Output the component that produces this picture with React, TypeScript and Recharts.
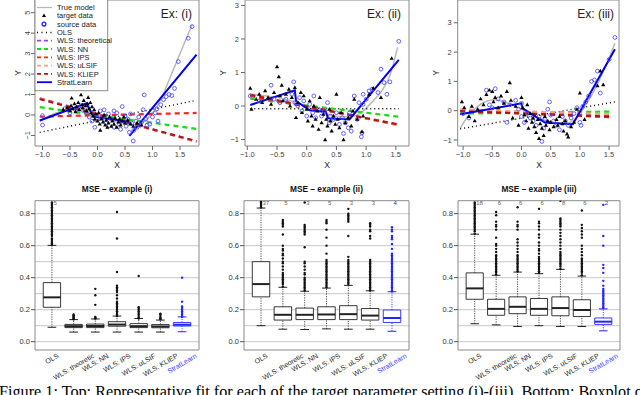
import React from 'react'
import {
  CartesianGrid,
  ComposedChart,
  Line,
  ReferenceArea,
  ReferenceLine,
  Scatter,
  XAxis,
  YAxis,
} from 'recharts'

const FONT = '"Liberation Sans", Arial, Helvetica, sans-serif'
const BLUE = '#2424ff'

type Pt = [number, number | null]

// ---------- top row: representative fits ----------
const xTicks = [-1, -0.5, 0, 0.5, 1, 1.5]
const yTicks1 = [-1, 0, 1, 2, 3, 4, 5]
const yTicks23 = [-1, 0, 1, 2, 3]

const target1: Pt[] = [
  [-0.62, 0.25], [-0.55, 0.35], [-0.5, 0.2], [-0.48, 0.45], [-0.47, 0.82], [-0.45, 0.3], [-0.42, 0.55],
  [-0.4, 0.15], [-0.38, 0.4], [-0.35, 0.6], [-0.33, 0.25], [-0.3, 0.98], [-0.28, 0.5], [-0.27, 0.35],
  [-0.25, 0.7], [-0.22, 0.45], [-0.2, 0.2], [-0.18, 0.55], [-0.17, 0.85], [-0.15, 0.3], [-0.13, 0.6],
  [-0.12, 0.1], [-0.1, 0.4], [-0.08, -0.05], [-0.06, 0.25], [-0.05, -0.2], [-0.03, 0.05], [0.0, -0.3],
  [0.02, 0.1], [0.04, -0.45], [0.05, -0.75], [0.07, -0.2], [0.1, -0.35], [0.12, 0.0], [0.14, -0.5],
  [0.16, -0.25], [0.18, -0.6], [0.2, -0.4], [0.22, -0.1], [0.25, -0.55], [0.27, -0.3], [0.3, -0.45],
  [0.32, -0.15], [0.35, -0.6], [0.38, -0.35], [0.4, -0.2], [0.42, -0.5], [0.45, -0.3], [0.48, -0.1],
  [0.5, -0.4], [0.55, -0.25], [0.6, -0.45], [0.65, -0.55], [0.72, -0.4], [0.8, -0.5],
]
const source1: Pt[] = [
  [-1.0, -0.03], [-1.0, -0.49], [-0.6, 0.3], [-0.5, 0.1], [-0.4, 0.25], [-0.3, 0.45], [-0.25, 0.2],
  [-0.2, 0.1], [-0.15, -0.1], [-0.1, -0.3], [-0.05, -0.6], [0.0, -0.15], [0.05, 0.2], [0.1, -0.1],
  [0.12, 0.25], [0.15, -0.4], [0.2, 0.05], [0.25, -0.2], [0.3, -0.6], [0.3, 0.2], [0.35, 0.1],
  [0.4, -0.45], [0.42, -0.7], [0.45, 0.41], [0.48, -0.3], [0.5, -0.05], [0.52, -0.55], [0.55, -0.2],
  [0.58, -0.85], [0.6, 0.05], [0.62, -0.4], [0.65, -1.27], [0.66, -0.75], [0.7, -0.3], [0.72, -0.6],
  [0.75, -0.1], [0.78, -0.5], [0.8, -0.35], [0.83, 0.26], [0.85, 0.98], [0.88, -0.2], [0.9, -0.5],
  [0.95, -0.45], [1.0, -0.1], [1.05, 0.1], [1.08, 0.3], [1.1, -0.3], [1.15, 0.5], [1.2, 0.75],
  [1.25, 0.9], [1.3, 1.0], [1.35, 0.95], [1.4, 1.3], [1.47, 2.61], [1.65, 3.75], [1.72, 4.32],
]
const truth1: Pt[] = [
  [-1.05, -0.3], [-0.8, 0.05], [-0.6, 0.25], [-0.4, 0.35], [-0.2, 0.3], [0.0, 0.05], [0.2, -0.2],
  [0.4, -0.38], [0.6, -0.48], [0.75, -0.45], [0.9, -0.2], [1.0, 0.1], [1.1, 0.5], [1.2, 1.05],
  [1.3, 1.7], [1.4, 2.35], [1.5, 3.0], [1.6, 3.65], [1.72, 4.4],
]
const ols1: Pt[] = [[-1.05, -0.85], [1.8, 0.72]]
const theo1: Pt[] = [[-1.05, 0.82], [1.8, -1.3]]
const nn1: Pt[] = [[-1.05, 0.38], [1.8, -0.68]]
const ips1: Pt[] = [[-1.05, -0.08], [1.8, 0.1]]
const ulsif1: Pt[] = [[-1.05, 0.8], [1.8, -1.32]]
const kliep1: Pt[] = [[-1.05, 0.78], [1.8, -1.28]]
const strat1: Pt[] = [[-1.05, -0.27], [-0.2, 0.57], [-0.08, -0.08], [0.58, -0.33], [0.58, null], [0.58, -1.02], [1.8, 2.95]]

const target2: Pt[] = [
  [-0.95, 0.53], [-0.93, -0.1], [-0.85, 0.2], [-0.8, 0.35], [-0.75, 0.1], [-0.7, 0.45], [-0.65, 0.25],
  [-0.6, 0.05], [-0.55, 0.4], [-0.5, 1.17], [-0.47, 0.87], [-0.45, 0.3], [-0.42, 0.62], [-0.4, 0.15],
  [-0.35, 0.35], [-0.3, 0.5], [-0.28, 0.0], [-0.25, 0.25], [-0.2, 0.55], [-0.18, -0.35], [-0.15, 0.1],
  [-0.1, 0.4], [-0.08, -0.2], [-0.05, 0.3], [0.0, -0.1], [0.02, -0.45], [0.05, 0.15], [0.08, -0.3],
  [0.1, -0.6], [0.12, 0.0], [0.15, -0.4], [0.18, -0.15], [0.2, -0.7], [0.22, 0.25], [0.25, -0.5],
  [0.28, -0.25], [0.31, -1.01], [0.33, -0.4], [0.35, -0.6], [0.38, -0.1], [0.4, -0.45], [0.42, -0.75],
  [0.45, -0.3], [0.48, -0.55], [0.5, 0.35], [0.52, -0.4], [0.55, -0.65], [0.58, -0.2], [0.62, -1.01],
  [0.65, -0.5], [0.7, -0.35], [0.75, -0.6], [0.78, -0.15], [0.8, 0.2], [0.85, -0.4], [0.93, -0.77],
  [0.95, -0.3], [1.05, 0.35], [1.12, 0.53], [1.25, 0.25], [1.43, 1.42],
]
const source2: Pt[] = [
  [-0.95, 0.3], [-0.8, 0.15], [-0.6, 0.62], [-0.55, 0.2], [-0.45, 0.1], [-0.35, 0.2], [-0.25, 0.35],
  [-0.22, 0.72], [-0.2, 0.1], [-0.15, 0.0], [-0.12, 0.25], [-0.08, -0.15], [-0.05, 0.15], [0.0, -0.3],
  [0.05, 0.05], [0.1, -0.2], [0.12, 0.3], [0.15, -0.35], [0.2, -0.1], [0.25, -0.3], [0.3, -0.15],
  [0.35, 0.1], [0.38, -0.5], [0.4, -0.3], [0.45, -0.4], [0.5, -0.2], [0.55, -0.55], [0.6, -0.35],
  [0.62, -0.82], [0.65, -0.5], [0.7, -0.65], [0.72, -0.2], [0.75, -0.75], [0.8, 0.3], [0.85, -0.4],
  [0.88, 0.1], [0.92, -0.92], [0.93, -0.8], [0.95, 0.05], [0.95, 0.35], [1.0, 0.2], [1.05, 0.45],
  [1.1, 0.5], [1.2, 0.4], [1.25, 1.1], [1.3, 0.7], [1.35, 0.35], [1.4, 0.72], [1.55, 1.93],
]
const truth2: Pt[] = [
  [-0.95, 0.35], [-0.8, 0.33], [-0.6, 0.28], [-0.4, 0.22], [-0.2, 0.12], [0.0, -0.02], [0.2, -0.15],
  [0.4, -0.27], [0.6, -0.33], [0.8, -0.3], [0.95, -0.15], [1.1, 0.12], [1.25, 0.42], [1.4, 0.9], [1.53, 1.75],
]
const ols2: Pt[] = [[-0.95, -0.08], [1.55, -0.08]]
const theo2: Pt[] = [[-0.95, 0.32], [1.55, -0.57]]
const nn2: Pt[] = [[-0.95, 0.22], [1.55, -0.32]]
const ips2: Pt[] = [[-0.95, 0.3], [1.55, -0.55]]
const ulsif2: Pt[] = [[-0.95, 0.35], [1.55, -0.58]]
const kliep2: Pt[] = [[-0.95, 0.33], [1.55, -0.56]]
const strat2: Pt[] = [[-0.95, 0.03], [-0.2, 0.47], [-0.18, 0.15], [0.05, -0.13], [0.32, -0.17], [0.36, -0.37], [0.72, -0.4], [1.55, 1.38]]

const target3: Pt[] = [
  [-1.02, 0.3], [-0.98, 0.1], [-0.9, -0.2], [-0.85, 0.15], [-0.8, -0.35], [-0.75, 0.05], [-0.7, 0.4],
  [-0.65, 0.2], [-0.6, 0.55], [-0.55, 0.7], [-0.5, 0.65], [-0.48, 0.3], [-0.45, 0.45], [-0.4, 0.1],
  [-0.35, 0.5], [-0.3, 0.25], [-0.25, 0.65], [-0.2, 0.95], [-0.18, 0.35], [-0.15, -0.25], [-0.1, 0.15],
  [-0.05, -0.5], [0.0, 0.45], [0.02, 0.1], [0.05, -0.15], [0.08, -0.35], [0.1, 0.2], [0.12, -0.6],
  [0.15, -0.1], [0.18, -0.4], [0.2, -0.25], [0.22, -0.55], [0.25, -0.75], [0.28, -0.3], [0.3, -0.95],
  [0.32, -0.45], [0.35, -0.6], [0.38, -0.85], [0.4, -0.2], [0.42, -0.5], [0.45, -0.35], [0.48, -0.65],
  [0.5, -0.4], [0.55, -0.55], [0.6, -0.3], [0.62, -0.5], [0.65, -0.2], [0.7, -0.45], [0.72, -0.7],
  [0.75, -0.35], [0.78, -0.8], [0.8, -0.9], [0.85, -0.55], [0.9, -0.4], [0.95, 0.05], [1.0, 0.6],
  [1.08, -0.3], [1.3, 0.85], [1.35, 1.35], [1.4, 0.88],
]
const source3: Pt[] = [
  [-1.0, -0.1], [-0.9, -0.25], [-0.6, 0.7], [-0.55, 0.2], [-0.5, 0.1], [-0.45, 0.75], [-0.4, 0.4],
  [-0.3, 0.3], [-0.25, -0.4], [-0.2, 0.2], [-0.1, 0.35], [-0.05, 0.05], [0.0, -0.2], [0.0, 0.25],
  [0.05, -0.4], [0.1, -0.1], [0.15, -0.25], [0.2, -0.35], [0.25, -0.5], [0.3, -0.2], [0.35, -1.05],
  [0.38, -0.6], [0.4, -0.3], [0.45, 0.05], [0.48, 0.3], [0.5, -0.15], [0.55, -0.35], [0.6, -0.5],
  [0.65, -0.65], [0.7, -0.2], [0.75, -0.35], [0.8, -0.5], [0.85, -0.25], [0.9, -0.1], [0.95, 0.1],
  [1.0, -0.4], [1.02, -0.5], [1.05, 0.15], [1.1, 0.3], [1.15, 0.5], [1.2, 1.0], [1.25, 1.05],
  [1.3, 1.35], [1.35, 0.6], [1.5, 1.75], [1.6, 2.5],
]
const truth3: Pt[] = [
  [-1.05, -0.6], [-0.9, -0.15], [-0.75, 0.15], [-0.6, 0.32], [-0.45, 0.37], [-0.3, 0.3], [-0.15, 0.2],
  [0.0, 0.05], [0.15, -0.1], [0.3, -0.25], [0.5, -0.38], [0.7, -0.45], [0.85, -0.38], [1.0, -0.1],
  [1.15, 0.35], [1.3, 0.9], [1.45, 1.55], [1.6, 2.3],
]
const ols3: Pt[] = [[-1.05, -0.62], [1.6, 0.3]]
const theo3: Pt[] = [[-1.05, 0.02], [1.5, -0.18]]
const nn3: Pt[] = [[-1.05, -0.1], [1.5, -0.03]]
const ips3: Pt[] = [[-1.05, 0.0], [1.5, -0.22]]
const ulsif3: Pt[] = [[-1.05, 0.05], [1.5, -0.12]]
const kliep3: Pt[] = [[-1.05, -0.02], [1.5, -0.2]]
const strat3: Pt[] = [[-1.05, -0.12], [0.0, 0.25], [0.02, 0.08], [0.4, -0.4], [0.88, -0.46], [1.6, 2.1]]

// ---------- bottom row: MSE boxplots ----------
const methods = ['OLS', 'WLS: theoretic', 'WLS: NN', 'WLS: IPS', 'WLS: uLSIF', 'WLS: KLIEP', 'StratLearn']
const methodPos = [1, 2, 3, 4, 5, 6, 7]
const mseTicks = [0, 0.2, 0.4, 0.6, 0.8]
const gridLevels = [0, 0.1, 0.2, 0.3, 0.4, 0.5, 0.6, 0.7, 0.8]

// [lower whisker, q1, median, q3, upper whisker]
const stats1 = [
  [0.09, 0.215, 0.277, 0.369, 0.602], [0.06, 0.088, 0.097, 0.108, 0.138], [0.06, 0.088, 0.098, 0.11, 0.142],
  [0.06, 0.097, 0.107, 0.125, 0.16], [0.06, 0.088, 0.097, 0.113, 0.145], [0.06, 0.087, 0.095, 0.107, 0.135],
  [0.062, 0.098, 0.106, 0.12, 0.155],
]
const outliers1 = [
  [0.605, 0.615, 0.625, 0.635, 0.645, 0.66, 0.67, 0.68, 0.69, 0.7, 0.71, 0.72, 0.73, 0.74, 0.75, 0.76, 0.77, 0.78, 0.79, 0.8, 0.81, 0.82, 0.83, 0.84, 0.85, 0.86, 0.87],
  [0.14, 0.145, 0.15, 0.155, 0.16, 0.165, 0.17],
  [0.145, 0.15, 0.155, 0.23, 0.29, 0.33],
  [0.16, 0.17, 0.18, 0.19, 0.2, 0.21, 0.22, 0.23, 0.24, 0.25, 0.27, 0.29, 0.31, 0.32, 0.33, 0.34, 0.35, 0.435, 0.645, 0.81],
  [0.145, 0.15, 0.16, 0.17, 0.18, 0.19, 0.2, 0.21, 0.215, 0.41],
  [0.14, 0.145, 0.15, 0.16, 0.17, 0.175],
  [0.155, 0.16, 0.17, 0.18, 0.19, 0.2, 0.21, 0.22, 0.25, 0.4],
]
const counts1 = ['5', '', '', '', '', '', '']

const stats2 = [
  [0.1, 0.28, 0.36, 0.5, 0.835], [0.078, 0.135, 0.168, 0.218, 0.34], [0.076, 0.138, 0.168, 0.21, 0.315],
  [0.08, 0.138, 0.17, 0.218, 0.335], [0.078, 0.138, 0.172, 0.225, 0.352], [0.078, 0.135, 0.163, 0.207, 0.318],
  [0.065, 0.12, 0.148, 0.198, 0.312],
]
const outliers2 = [
  [0.84, 0.85, 0.86, 0.87, 0.875],
  [0.345, 0.36, 0.37, 0.38, 0.39, 0.4, 0.41, 0.42, 0.43, 0.45, 0.47, 0.49, 0.5, 0.52, 0.54, 0.55, 0.57, 0.58, 0.6, 0.67, 0.72, 0.73, 0.74, 0.75, 0.76],
  [0.32, 0.33, 0.34, 0.35, 0.36, 0.37, 0.38, 0.39, 0.4, 0.42, 0.43, 0.45, 0.47, 0.49, 0.5, 0.59, 0.67, 0.68, 0.69, 0.7, 0.71, 0.72, 0.73, 0.87],
  [0.34, 0.35, 0.36, 0.37, 0.38, 0.39, 0.4, 0.41, 0.42, 0.43, 0.44, 0.45, 0.46, 0.47, 0.48, 0.49, 0.5, 0.51, 0.55, 0.6, 0.65, 0.7, 0.74, 0.75, 0.76],
  [0.36, 0.37, 0.38, 0.39, 0.4, 0.41, 0.42, 0.43, 0.44, 0.45, 0.46, 0.47, 0.48, 0.49, 0.5, 0.51, 0.53, 0.66, 0.75, 0.76, 0.77, 0.78, 0.79, 0.8, 0.83],
  [0.32, 0.33, 0.34, 0.35, 0.36, 0.37, 0.38, 0.39, 0.4, 0.41, 0.42, 0.43, 0.44, 0.45, 0.46, 0.47, 0.48, 0.49, 0.5, 0.51, 0.645, 0.66, 0.69, 0.7, 0.72, 0.73, 0.74],
  [0.315, 0.32, 0.33, 0.34, 0.35, 0.36, 0.37, 0.38, 0.39, 0.4, 0.41, 0.42, 0.43, 0.44, 0.45, 0.46, 0.47, 0.48, 0.49, 0.5, 0.51, 0.52, 0.53, 0.54, 0.55, 0.58, 0.61, 0.64, 0.65, 0.66, 0.69, 0.7, 0.715],
]
const counts2 = ['37', '5', '3', '5', '3', '3', '4']

const stats3 = [
  [0.112, 0.265, 0.333, 0.43, 0.672], [0.105, 0.165, 0.205, 0.265, 0.415], [0.095, 0.175, 0.218, 0.28, 0.435],
  [0.1, 0.165, 0.205, 0.27, 0.425], [0.095, 0.162, 0.21, 0.28, 0.452], [0.095, 0.157, 0.198, 0.262, 0.41],
  [0.068, 0.108, 0.125, 0.148, 0.205],
]
const outliers3 = [
  [0.675, 0.69, 0.7, 0.71, 0.72, 0.73, 0.74, 0.75, 0.76, 0.77, 0.78, 0.79, 0.8, 0.81, 0.82, 0.83, 0.84, 0.85, 0.86, 0.87],
  [0.42, 0.43, 0.44, 0.45, 0.46, 0.47, 0.48, 0.49, 0.5, 0.51, 0.52, 0.53, 0.54, 0.56, 0.58, 0.6, 0.61, 0.65, 0.7, 0.72, 0.73, 0.75, 0.79, 0.81],
  [0.44, 0.45, 0.46, 0.47, 0.48, 0.49, 0.5, 0.51, 0.52, 0.53, 0.54, 0.56, 0.58, 0.6, 0.62, 0.64, 0.7, 0.72, 0.73, 0.75, 0.84],
  [0.43, 0.44, 0.45, 0.46, 0.47, 0.48, 0.49, 0.5, 0.51, 0.52, 0.53, 0.55, 0.57, 0.58, 0.6, 0.62, 0.65, 0.67, 0.7, 0.72, 0.74, 0.75, 0.83],
  [0.455, 0.47, 0.48, 0.49, 0.5, 0.51, 0.52, 0.53, 0.54, 0.55, 0.56, 0.58, 0.6, 0.62, 0.64, 0.66, 0.68, 0.7, 0.72, 0.73, 0.74, 0.75, 0.76, 0.77, 0.88],
  [0.415, 0.43, 0.44, 0.45, 0.46, 0.47, 0.48, 0.49, 0.5, 0.51, 0.52, 0.54, 0.56, 0.58, 0.6, 0.65, 0.67, 0.69, 0.71, 0.73, 0.82],
  [0.21, 0.22, 0.23, 0.24, 0.25, 0.26, 0.27, 0.28, 0.29, 0.3, 0.31, 0.32, 0.33, 0.35, 0.38, 0.43, 0.46, 0.48, 0.6, 0.66, 0.855],
]
const counts3 = ['18', '6', '6', '6', '8', '6', '2']

const caption = 'Figure 1: Top: Representative fit for each of the target parameter setting (i)-(iii). Bottom: Boxplot of'

// ---------- helpers ----------
const toXY = (a: Pt[]) => a.map(([x, y]) => ({ x, y }))
const minus = (v: number, d: number) => (v < 0 ? '\u2212' : '') + Math.abs(v).toFixed(d)

let ctx: CanvasRenderingContext2D | null = null
function textWidth(s: string, font: string) {
  if (!ctx) ctx = document.createElement('canvas').getContext('2d')
  if (!ctx) return s.length * 3.5
  ctx.font = font
  return ctx.measureText(s).width
}

const axisTick = { fontSize: 7.5, fill: '#444', fontFamily: FONT }

const Tri = (p: any) => (
  <path d={`M${p.cx},${p.cy - 2.3}L${p.cx + 2.1},${p.cy + 1.4}L${p.cx - 2.1},${p.cy + 1.4}Z`} fill="#000" />
)
const Circ = (p: any) => <circle cx={p.cx} cy={p.cy} r={1.9} fill="none" stroke="#5050ff" strokeWidth={0.9} />
const OutDot = (p: any) => <circle cx={p.cx} cy={p.cy} r={1.2} fill={p.payload.blue ? BLUE : '#111'} />
const CountText = (p: any) => (
  <text x={p.cx + 1.5} y={p.cy} dy="0.35em" fontSize={6} fontFamily={FONT} fill={p.payload.blue ? BLUE : '#666'}>
    {p.payload.n}
  </text>
)

const RotTick = (p: any) => (
  <text x={p.x} y={p.y} transform={`rotate(-90 ${p.x} ${p.y})`} textAnchor="middle" fontSize={7.5} fill="#444" fontFamily={FONT}>
    {minus(p.payload.value, 0)}
  </text>
)

const ANGLE = 30
const MethodTick = (p: any) => {
  const label = methods[p.payload.value - 1]
  const w = textWidth(label, `7px ${FONT}`)
  const a = (ANGLE * Math.PI) / 180
  const cx = p.x
  const cy = p.y + (w / 2) * Math.sin(a) + 2.5 * Math.cos(a)
  return (
    <text x={cx} y={cy} dy="0.35em" textAnchor="middle" transform={`rotate(${-ANGLE} ${cx} ${cy})`} fontSize={7} fontFamily={FONT} fill={label === 'StratLearn' ? '#3a3aff' : '#222'}>
      {label}
    </text>
  )
}

const dashedFits = [
  { key: 'theo', color: '#a040f0' },
  { key: 'nn', color: '#10e010' },
  { key: 'ips', color: '#ff2020' },
  { key: 'ulsif', color: '#ffa07a' },
  { key: 'kliep', color: '#b41414' },
]

interface FitPanelProps {
  left: number
  margin: { top: number; right: number; bottom: number; left: number }
  xDomain: [number, number]
  yDomain: [number, number]
  yTicks: number[]
  rotateY?: boolean
  target: Pt[]
  source: Pt[]
  truth: Pt[]
  ols: Pt[]
  fits: Record<string, Pt[]>
  strat: Pt[]
}

function FitPanel(p: FitPanelProps) {
  return (
    <div style={{ position: 'absolute', left: p.left, top: 0 }}>
      <ComposedChart width={210} height={180} margin={p.margin}>
        <XAxis type="number" dataKey="x" domain={p.xDomain} allowDataOverflow ticks={xTicks} interval={0}
          tickFormatter={(v: number) => minus(v, 1)} tick={axisTick} tickSize={4} tickMargin={2}
          tickLine={{ stroke: '#666' }} axisLine={false} height={30} />
        <YAxis type="number" dataKey="y" domain={p.yDomain} allowDataOverflow ticks={p.yTicks} interval={0}
          width={25} tickSize={4} tickMargin={p.rotateY ? 1 : 2} tickLine={{ stroke: '#666' }} axisLine={false}
          tick={p.rotateY ? RotTick : axisTick} tickFormatter={(v: number) => minus(v, 0)} />
        <ReferenceArea x1={p.xDomain[0]} x2={p.xDomain[1]} y1={p.yDomain[0]} y2={p.yDomain[1]}
          fill="none" fillOpacity={0} stroke="#8a8a8a" strokeWidth={1} ifOverflow="visible" />
        <Scatter data={toXY(p.source)} shape={Circ} isAnimationActive={false} />
        <Scatter data={toXY(p.target)} shape={Tri} isAnimationActive={false} />
        <Line data={toXY(p.truth)} dataKey="y" type="monotone" stroke="#b8b8b8" strokeWidth={1.5} dot={false} isAnimationActive={false} />
        <Line data={toXY(p.ols)} dataKey="y" stroke="#000" strokeWidth={1.4} strokeDasharray="1 3" dot={false} isAnimationActive={false} />
        {dashedFits.map((f) => (
          <Line key={f.key} data={toXY(p.fits[f.key])} dataKey="y" stroke={f.color} strokeWidth={2.2}
            strokeDasharray="5 4" dot={false} isAnimationActive={false} />
        ))}
        <Line data={toXY(p.strat)} dataKey="y" stroke="#0000ee" strokeWidth={2} dot={false} connectNulls={false} isAnimationActive={false} />
      </ComposedChart>
    </div>
  )
}

interface BoxPanelProps {
  left: number
  margin: { top: number; right: number; bottom: number; left: number }
  stats: number[][]
  outliers: number[][]
  counts: string[]
}

const xBox: [number, number] = [0.22, 7.78]
const yBox: [number, number] = [-0.052, 0.881]

function BoxPanel(p: BoxPanelProps) {
  const outPts = p.outliers.flatMap((vals, i) => vals.map((v) => ({ x: i + 1, y: v, blue: i === 6 })))
  const countPts = p.counts
    .map((n, i) => ({ x: i + 1, y: 0.87, n, blue: i === 6 }))
    .filter((c) => c.n !== '')
  return (
    <div style={{ position: 'absolute', left: p.left, top: 180 }}>
      <ComposedChart width={210} height={215} margin={p.margin}>
        <CartesianGrid vertical={false} horizontalValues={gridLevels} stroke="#d2d2d2" strokeWidth={1.3} />
        <XAxis type="number" dataKey="x" domain={xBox} allowDataOverflow ticks={methodPos} interval={0}
          tick={MethodTick} tickSize={0} tickMargin={3} tickLine={false} axisLine={false} height={40} />
        <YAxis type="number" dataKey="y" domain={yBox} allowDataOverflow ticks={mseTicks} interval={0} width={30}
          tickSize={4} tickMargin={1} tickFormatter={(v: number) => v.toFixed(1)} tick={{ ...axisTick, fill: '#333' }}
          tickLine={{ stroke: '#555' }} axisLine={false} />
        {p.stats.map(([lo, q1, med, q3, hi], i) => {
          const x = i + 1
          const col = i === 6 ? BLUE : '#222'
          return [
            <ReferenceLine key={`wl${i}`} segment={[{ x, y: lo }, { x, y: q1 }]} stroke={col} strokeWidth={0.8} strokeDasharray="1.2 1.2" />,
            <ReferenceLine key={`wh${i}`} segment={[{ x, y: q3 }, { x, y: hi }]} stroke={col} strokeWidth={0.8} strokeDasharray="1.2 1.2" />,
            <ReferenceLine key={`cl${i}`} segment={[{ x: x - 0.2, y: lo }, { x: x + 0.2, y: lo }]} stroke={col} strokeWidth={1} />,
            <ReferenceLine key={`ch${i}`} segment={[{ x: x - 0.2, y: hi }, { x: x + 0.2, y: hi }]} stroke={col} strokeWidth={1} />,
            <ReferenceArea key={`b${i}`} x1={x - 0.4} x2={x + 0.4} y1={q1} y2={q3} fill="#fff" fillOpacity={1} stroke={col} strokeWidth={0.9} />,
            <ReferenceLine key={`m${i}`} segment={[{ x: x - 0.4, y: med }, { x: x + 0.4, y: med }]} stroke={col} strokeWidth={2} />,
          ]
        })}
        <Scatter data={outPts} shape={OutDot} isAnimationActive={false} />
        <Scatter data={countPts} shape={CountText} isAnimationActive={false} />
        <ReferenceArea x1={xBox[0]} x2={xBox[1]} y1={yBox[0]} y2={yBox[1]} fill="none" fillOpacity={0}
          stroke="#8a8a8a" strokeWidth={1} ifOverflow="visible" />
      </ComposedChart>
    </div>
  )
}

const legendRows = [
  { label: 'True model', kind: 'line', color: '#b8b8b8', dash: '', w: 1.3 },
  { label: 'target data', kind: 'tri', color: '#000', dash: '', w: 1 },
  { label: 'source data', kind: 'circ', color: '#2020ff', dash: '', w: 1.3 },
  { label: 'OLS', kind: 'line', color: '#000', dash: '1 3.5', w: 1.5 },
  { label: 'WLS: theoretical', kind: 'line', color: '#a040f0', dash: '4 3', w: 1.8 },
  { label: 'WLS: NN', kind: 'line', color: '#10e010', dash: '4 3', w: 1.8 },
  { label: 'WLS: IPS', kind: 'line', color: '#ff2020', dash: '4 3', w: 1.8 },
  { label: 'WLS: uLSIF', kind: 'line', color: '#ffa07a', dash: '4 3', w: 1.8 },
  { label: 'WLS: KLIEP', kind: 'line', color: '#b41414', dash: '4 3', w: 1.8 },
  { label: 'StratLearn', kind: 'line', color: '#0000ee', dash: '', w: 1.8 },
]

function Overlay() {
  const txt = { fontFamily: FONT, fill: '#222' }
  return (
    <svg width={640} height={395} style={{ position: 'absolute', left: 0, top: 0, pointerEvents: 'none' }}>
      <rect x={35} y={-1} width={72.7} height={91.7} fill="#fff" stroke="#8a8a8a" strokeWidth={1} />
      {legendRows.map((r, i) => {
        const y = 7.5 + i * 8.3
        return (
          <g key={r.label}>
            {r.kind === 'line' && <line x1={37} x2={52} y1={y} y2={y} stroke={r.color} strokeWidth={r.w} strokeDasharray={r.dash || undefined} />}
            {r.kind === 'tri' && <path d={`M44,${y - 2.2}L46,${y + 1.3}L42,${y + 1.3}Z`} fill="#000" />}
            {r.kind === 'circ' && <circle cx={44} cy={y} r={1.9} fill="none" stroke={r.color} strokeWidth={r.w} />}
            <text x={57} y={y} dy="0.35em" fontSize={7.5} {...txt}>{r.label}</text>
          </g>
        )
      })}
      <text x={192} y={17.5} textAnchor="end" fontSize={12} {...txt}>Ex: (i)</text>
      <text x={401} y={17.5} textAnchor="end" fontSize={12} {...txt}>Ex: (ii)</text>
      <text x={614} y={17.5} textAnchor="end" fontSize={12} {...txt}>Ex: (iii)</text>
      {[117, 327, 539].map((x) => (
        <text key={x} x={x} y={165} dy="0.35em" textAnchor="middle" fontSize={8.5} {...txt}>X</text>
      ))}
      {[18.3, 222.7, 436].map((x) => (
        <text key={x} x={x} y={73} dy="0.35em" textAnchor="middle" fontSize={8.5} transform={`rotate(-90 ${x} 73)`} {...txt}>Y</text>
      ))}
      {[
        [117, 'MSE \u2013 example (i)'],
        [326.5, 'MSE \u2013 example (ii)'],
        [539, 'MSE \u2013 example (iii)'],
      ].map(([x, t]) => (
        <text key={t as string} x={x as number} y={189} dy="0.35em" textAnchor="middle" fontSize={8.3} fontWeight="bold" fontFamily={FONT} fill="#111">
          {t}
        </text>
      ))}
      <text x={-1} y={397} fontSize={16.2} fontFamily='"Liberation Serif", "Times New Roman", serif' fill="#000">
        {caption}
      </text>
    </svg>
  )
}

export default function App() {
  return (
    <div style={{ position: 'absolute', left: 0, top: 0, width: 640, height: 395, overflow: 'hidden', background: '#fff' }}>
      <FitPanel left={0} margin={{ top: 0, right: 11, bottom: 4, left: 10 }} xDomain={[-1.136, 1.845]} yDomain={[-1.516, 5.62]}
        yTicks={yTicks1} rotateY target={target1} source={source1} truth={truth1} ols={ols1}
        fits={{ theo: theo1, nn: nn1, ips: ips1, ulsif: ulsif1, kliep: kliep1 }} strat={strat1} />
      <FitPanel left={210} margin={{ top: 0, right: 11, bottom: 4, left: 10 }} xDomain={[-1.039, 1.722]} yDomain={[-1.194, 3.164]}
        yTicks={yTicks23} target={target2} source={source2} truth={truth2} ols={ols2}
        fits={{ theo: theo2, nn: nn2, ips: ips2, ulsif: ulsif2, kliep: kliep2 }} strat={strat2} />
      <FitPanel left={420} margin={{ top: 0, right: 11, bottom: 4, left: 12.7 }} xDomain={[-1.092, 1.67]} yDomain={[-1.205, 3.778]}
        yTicks={yTicks23} target={target3} source={source3} truth={truth3} ols={ols3}
        fits={{ theo: theo3, nn: nn3, ips: ips3, ulsif: ulsif3, kliep: kliep3 }} strat={strat3} />
      <BoxPanel left={0} margin={{ top: 20.7, right: 11, bottom: 5, left: 5 }} stats={stats1} outliers={outliers1} counts={counts1} />
      <BoxPanel left={210} margin={{ top: 20.7, right: 11, bottom: 5, left: 4 }} stats={stats2} outliers={outliers2} counts={counts2} />
      <BoxPanel left={420} margin={{ top: 20.7, right: 10, bottom: 5, left: 8 }} stats={stats3} outliers={outliers3} counts={counts3} />
      <Overlay />
    </div>
  )
}
